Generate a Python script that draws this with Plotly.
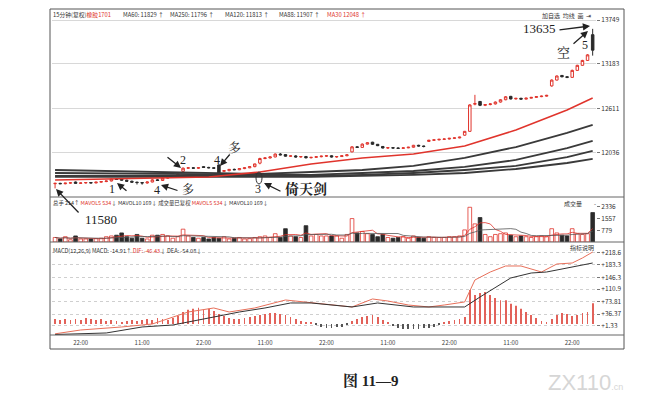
import plotly.graph_objects as go
from plotly.subplots import make_subplots
import pandas as pd

# ---------------- data ----------------
OPEN = [11640, 11645, 11640, 11648, 11662, 11645, 11650, 11655, 11650, 11660,
        11668, 11675, 11700, 11705, 11685, 11672, 11660, 11655, 11650, 11662,
        11690, 11682, 11712, 11725, 11738, 11800, 11840, 11845, 11840, 11860,
        11850, 11845, 11882, 11800, 11808, 11825, 11820, 11835, 11845, 11860,
        11905, 11965, 11972, 11985, 12022, 12015, 11995, 11998, 11985, 11990,
        11975, 11980, 11988, 11995, 12000, 11985, 11990, 12000, 12050, 12115,
        12108, 12150, 12175, 12148, 12120, 12100, 12104, 12100, 12096, 12102,
        12110, 12135, 12126, 12185, 12200, 12205, 12212, 12216, 12225, 12230,
        12265, 12315, 12665, 12700, 12650, 12660, 12668, 12692, 12722, 12765,
        12732, 12740, 12730, 12742, 12752, 12762, 12768, 12900, 12975, 13035,
        13018, 13010, 13100, 13165, 13228, 13560]
HIGH = [11652, 11652, 11650, 11660, 11668, 11655, 11660, 11662, 11665, 11672,
        11680, 11705, 11712, 11712, 11692, 11680, 11666, 11662, 11668, 11700,
        11700, 11720, 11730, 11745, 11770, 11850, 11852, 11855, 11850, 11866,
        11858, 11852, 11890, 11815, 11830, 11835, 11840, 11850, 11865, 11898,
        11975, 11980, 11990, 12030, 12035, 12020, 12005, 12008, 11995, 11998,
        11985, 11995, 12002, 12005, 12008, 11995, 12005, 12018, 12125, 12125,
        12160, 12175, 12180, 12152, 12125, 12110, 12112, 12108, 12106, 12115,
        12140, 12142, 12130, 12205, 12210, 12218, 12222, 12230, 12236, 12245,
        12320, 12665, 12785, 12705, 12665, 12675, 12700, 12730, 12770, 12772,
        12745, 12748, 12748, 12758, 12768, 12775, 12785, 12985, 13035, 13040,
        13025, 13110, 13172, 13236, 13310, 13635]
LOW = [11580, 11635, 11632, 11640, 11640, 11638, 11642, 11645, 11645, 11652,
       11660, 11670, 11688, 11680, 11668, 11655, 11630, 11628, 11640, 11658,
       11675, 11678, 11705, 11718, 11730, 11795, 11832, 11835, 11830, 11845,
       11838, 11832, 11735, 11790, 11800, 11815, 11815, 11828, 11840, 11852,
       11890, 11955, 11965, 11980, 12005, 11990, 11985, 11978, 11975, 11965,
       11965, 11972, 11980, 11985, 11978, 11975, 11985, 11995, 12045, 12100,
       12102, 12145, 12140, 12125, 12095, 12090, 12095, 12088, 12090, 12098,
       12105, 12120, 12108, 12180, 12192, 12198, 12205, 12210, 12218, 12225,
       12258, 12310, 12650, 12640, 12640, 12650, 12660, 12685, 12715, 12725,
       12725, 12725, 12726, 12738, 12748, 12755, 12762, 12890, 12970, 13010,
       13000, 13005, 13095, 13160, 13222, 13290]
CLOSE = [11645, 11640, 11648, 11652, 11645, 11650, 11655, 11650, 11660, 11668,
         11675, 11700, 11695, 11685, 11672, 11660, 11655, 11650, 11662, 11690,
         11682, 11712, 11725, 11738, 11762, 11840, 11845, 11840, 11846, 11850,
         11845, 11840, 11745, 11808, 11825, 11820, 11835, 11845, 11860, 11895,
         11965, 11972, 11985, 12022, 12012, 11995, 11998, 11985, 11990, 11975,
         11980, 11988, 11995, 12000, 11985, 11990, 12000, 12012, 12115, 12108,
         12150, 12168, 12148, 12130, 12100, 12104, 12100, 12096, 12102, 12110,
         12135, 12126, 12120, 12200, 12205, 12212, 12216, 12225, 12230, 12240,
         12315, 12655, 12672, 12650, 12660, 12668, 12692, 12722, 12760, 12732,
         12740, 12730, 12742, 12752, 12762, 12768, 12778, 12975, 13028, 13018,
         13010, 13100, 13165, 13228, 13300, 13360]
VOLUME = [300, 200, 350, 150, 400, 200, 200, 200, 220, 250,
          350, 400, 450, 600, 350, 250, 500, 250, 200, 450,
          450, 500, 400, 250, 350, 850, 400, 300, 250, 300,
          200, 300, 250, 350, 200, 250, 300, 200, 220, 300,
          350, 400, 300, 550, 300, 880, 400, 350, 300, 1080,
          400, 500, 400, 400, 400, 400, 250, 500, 1550, 600,
          700, 550, 500, 350, 500, 300, 250, 300, 350, 250,
          400, 300, 250, 350, 300, 300, 300, 350, 350, 400,
          800, 2300, 1200, 1620, 500, 350, 500, 550, 600, 450,
          350, 400, 350, 300, 350, 400, 350, 880, 600, 450,
          400, 880, 550, 500, 550, 1950]

# moving-average lines of the price panel, read at a few bar positions
MA_IDX = [0, 20, 40, 50, 60, 70, 80, 90, 100, 105]
MA60 = [11817, 11791, 11766, 11791, 11817, 11869, 11972, 12113, 12294, 12397]
MA88 = [11778, 11766, 11753, 11753, 11778, 11804, 11856, 11946, 12100, 12191]
MA120 = [11740, 11740, 11740, 11740, 11753, 11778, 11817, 11869, 11984, 12062]
MA250 = [11727, 11727, 11727, 11727, 11740, 11753, 11778, 11830, 11907, 11959]
MA30_IDX = [0, 20, 30, 40, 50, 60, 70, 80, 90, 100, 105]
MA30 = [11688, 11714, 11727, 11791, 11894, 11972, 12023, 12126, 12332, 12590, 12744]

# MACD panel
DIF_IDX = [0, 5, 13, 19, 26, 31, 34, 39, 45, 49, 54, 58, 62, 65, 69, 73, 76, 80,
           82, 85, 88, 91, 95, 98, 101, 103, 105]
DIF = [-22, -10.6, -1.6, 7.3, 43, 54.9, 43, 54.9, 78.7, 72.8, 63.8, 57.9, 81.7,
       75.7, 63.8, 57.9, 63.8, 72.8, 138.2, 162, 179.9, 179.9, 162, 185.8, 188.8,
       203.7, 221.5]
DEA_IDX = [0, 10, 17, 23, 30, 36, 41, 46, 50, 54, 58, 63, 70, 80, 83, 89, 93, 96, 101, 105]
DEA = [-24, -19.5, -1.6, 4.3, 25.1, 43, 54.9, 69.8, 69.8, 63.8, 57.9, 69.8, 57.9,
       57.9, 87.6, 144.2, 159, 162, 176.9, 188.8]
HIST_BASE = 7.3
HIST = [15, 12, 15, 12, 15, 12, 18, 15, 12, 15,
        9, 12, 9, 6, 9, 12, 9, 12, 15, 12,
        18, 15, 12, 18, 24, 36, 42, 45, 48, 42,
        45, 39, 30, 24, 18, 15, 15, 18, 21, 24,
        27, 30, 33, 33, 30, 27, 21, 15, 9, 3,
        3, -3, -9, -12, -12, -9, -9, -3, 9, 15,
        21, 24, 27, 21, 12, 3, -6, -12, -15, -15,
        -15, -15, -12, -12, -9, -3, 6, 9, 12, 15,
        21, 101, 86, 92, 95, 86, 77, 71, 71, 60,
        54, 45, 36, 27, 18, 9, 6, 15, 27, 33,
        30, 24, 27, 33, 36, 62]

TICK_IDX = [5, 17, 29, 41, 53, 65, 77, 89, 101]
TICK_TEXT = ["22:00", "11:00", "22:00", "11:00", "22:00", "11:00", "22:00", "11:00", "22:00"]
PRICE_TICKS = [13749, 13183, 12611, 12036]
VOL_TICKS = [2336, 1557, 779]
MACD_TICKS = [218.6, 183.3, 146.3, 110.9, 73.81, 36.37, 1.33]
MACD_TICK_TEXT = ["+218.6", "+183.3", "+146.3", "+110.9", "+73.81", "+36.37", "+1.33"]

# ---------------- figure ----------------
RED = "#e0342c"
BLK = "#2a2a2a"
W, H = 656, 402
L_M, R_M, T_M, B_M = 52, 60, 11, 67
PW, PH = W - L_M - R_M, H - T_M - B_M

def px(x, y):
    return (x - L_M) / PW, (H - B_M - y) / PH

n = len(CLOSE)
idx = list(range(n))
up = [c >= o for o, c in zip(OPEN, CLOSE)]

fig = make_subplots(rows=3, cols=1, shared_xaxes=True, vertical_spacing=0)

fig.add_trace(go.Candlestick(
    x=idx, open=OPEN, high=HIGH, low=LOW, close=CLOSE,
    increasing=dict(line=dict(color=RED, width=1), fillcolor="white"),
    decreasing=dict(line=dict(color=BLK, width=1), fillcolor=BLK),
    whiskerwidth=0, hoverinfo="skip"), row=1, col=1)

for ys in (MA60, MA88, MA120, MA250):
    fig.add_trace(go.Scatter(x=MA_IDX, y=ys, mode="lines",
                             line=dict(color="#3a3a3a", width=1.8)), row=1, col=1)
fig.add_trace(go.Scatter(x=MA30_IDX, y=MA30, mode="lines",
                         line=dict(color=RED, width=1.5)), row=1, col=1)

# volume
vol = pd.Series(VOLUME, dtype=float)
fig.add_trace(go.Bar(
    x=idx, y=VOLUME, width=0.72,
    marker=dict(color=["white" if u else BLK for u in up],
                line=dict(color=[RED if u else BLK for u in up], width=0.8))),
    row=2, col=1)
fig.add_trace(go.Scatter(x=idx, y=vol.rolling(5, min_periods=1).mean(), mode="lines",
                         line=dict(color=RED, width=0.8)), row=2, col=1)
fig.add_trace(go.Scatter(x=idx, y=vol.rolling(10, min_periods=1).mean(), mode="lines",
                         line=dict(color="#555", width=0.8)), row=2, col=1)

# MACD
fig.add_trace(go.Bar(
    x=idx, y=HIST, base=HIST_BASE, width=0.16,
    marker=dict(color=["#e2625a" if h >= 0 else "#555" for h in HIST], line=dict(width=0))),
    row=3, col=1)
fig.add_trace(go.Scatter(x=DIF_IDX, y=DIF, mode="lines",
                         line=dict(color="#e8705a", width=1)), row=3, col=1)
fig.add_trace(go.Scatter(x=DEA_IDX, y=DEA, mode="lines",
                         line=dict(color="#333", width=1)), row=3, col=1)

y1 = px(0, 197)[1]
y2 = px(0, 242)[1]
fig.update_layout(
    width=W, height=H, margin=dict(l=L_M, r=R_M, t=T_M, b=B_M),
    paper_bgcolor="white", plot_bgcolor="white", showlegend=False,
    hovermode=False, barmode="overlay",
    font=dict(family="Noto Sans CJK SC, Liberation Sans, sans-serif", color="#333"),
    yaxis=dict(domain=[y1, 1]), yaxis2=dict(domain=[y2, y1]), yaxis3=dict(domain=[0, y2]),
)
fig.update_xaxes(range=[-0.6, 105.65], showgrid=False, zeroline=False, showline=False,
                 rangeslider_visible=False, ticks="")
fig.update_xaxes(tickvals=TICK_IDX, ticktext=TICK_TEXT, tickfont=dict(size=6, color="#444"),
                 showticklabels=True, ticklabelstandoff=3, row=3, col=1)
common_y = dict(side="right", ticks="outside", ticklen=3, tickcolor="#777",
                tickfont=dict(size=6.5, color="#333"), zeroline=False, showline=False)
fig.update_yaxes(range=[11469, 13865], tickvals=PRICE_TICKS,
                 ticktext=[str(v) for v in PRICE_TICKS], showgrid=True,
                 gridcolor="#d8d8d8", gridwidth=0.6, **common_y, row=1, col=1)
fig.update_yaxes(range=[0, 2980], tickvals=VOL_TICKS, ticktext=[str(v) for v in VOL_TICKS],
                 showgrid=False, **common_y, row=2, col=1)
fig.update_yaxes(range=[-25.5, 251.3], tickvals=MACD_TICKS, ticktext=MACD_TICK_TEXT,
                 showgrid=True, gridcolor="#cfcfcf", gridwidth=0.6, griddash="dot",
                 **common_y, row=3, col=1)

# frame and separators
fx0, fy0 = px(50, 349)
fx1, fy1 = px(624, 9)
shapes = [dict(type="rect", xref="paper", yref="paper", x0=fx0, y0=fy0, x1=fx1, y1=fy1,
               line=dict(color="#555", width=1))]
for py in (197, 242, 335):
    shapes.append(dict(type="line", xref="paper", yref="paper", x0=fx0, x1=fx1,
                       y0=px(0, py)[1], y1=px(0, py)[1], line=dict(color="#666", width=1)))
ex0, ey0 = px(256, 184)
ex1, ey1 = px(262, 172)
shapes.append(dict(type="circle", xref="paper", yref="paper", x0=ex0, y0=ey0, x1=ex1, y1=ey1,
                   line=dict(color="#333", width=1)))
fig.update_layout(shapes=shapes)

anns = []

def text(x, y, t, size=6, color="#333", anchor="left", family=None, bold=False):
    ax_, ay_ = px(x, y)
    f = dict(size=size, color=color)
    if family:
        f["family"] = family
    anns.append(dict(xref="paper", yref="paper", x=ax_, y=ay_, text=f"<b>{t}</b>" if bold else t,
                     showarrow=False, xanchor=anchor, yanchor="middle", font=f))

def arrow(tx, ty, sx, sy, w=1.3):
    ax_, ay_ = px(tx, ty)
    anns.append(dict(xref="paper", yref="paper", x=ax_, y=ay_, text="", showarrow=True,
                     ax=sx - tx, ay=sy - ty, arrowhead=2, arrowsize=1.1, arrowwidth=w,
                     arrowcolor="#222"))

R = "#e0342c"
# header rows
text(51, 14, f"15分钟(复权)<span style='color:{R}'>橡胶1701</span>", 5.8)
text(121, 14, "MA60: 11829 ↑", 5.8)
text(168, 14, "MA250: 11796 ↑", 5.8)
text(223, 14, "MA120: 11813 ↑", 5.8)
text(277, 14, "MA88: 11907 ↑", 5.8)
text(325, 14, "MA30 12048 ↑", 5.8, RED)
text(540, 16, "加自选  均线  画  ⇥", 6)
text(51, 203, f"总手 214↑ <span style='color:{R}'>MAVOL5 534</span>↓ MAVOL10 169↓ "
              f"成交量已复权 <span style='color:{R}'>MAVOL5 534</span>↓ MAVOL10 169↓", 5.4)
text(562, 203, "成交量", 6)
text(592, 203, "-", 6)
text(51, 251, f"MACD(12,26,9) MACD: -14.91↑ <span style='color:{R}'>DIF: -46.43</span>↓ "
              f"DEA: -54.08↓", 5.6)
text(568, 248, "指标说明", 6)

# hand annotations
SERIF = "Liberation Serif, Noto Serif CJK SC, Noto Sans CJK SC, serif"
text(539, 28, "13635", 13, "#222", "center", SERIF)
arrow(590, 26, 558, 30)
text(563, 52, "空", 13, "#222", "center", SERIF)
arrow(588, 31, 572, 45)
text(585, 45, "5", 12, "#222", "center", SERIF)
text(183, 160, "2", 12, "#222", "center", SERIF)
arrow(181, 168, 166, 156)
text(217, 160, "4", 12, "#222", "center", SERIF)
text(234, 147, "多", 13, "#222", "center", SERIF)
arrow(220, 166, 231, 153)
text(112, 189, "1", 12, "#222", "center", SERIF)
arrow(117, 183, 128, 192)
text(157, 190, "4", 12, "#222", "center", SERIF)
text(188, 190, "多", 12, "#222", "center", SERIF)
arrow(161, 185, 179, 191)
text(258, 189, "3", 12, "#222", "center", SERIF)
arrow(264, 183, 282, 192)
text(306, 189, "倚天剑", 14, "#222", "center", SERIF, bold=True)
text(101, 219, "11580", 13, "#222", "center", SERIF)
arrow(56, 189, 80, 214)

# caption and watermark
text(370, 381, "图 11—9", 15, "#222", "center", SERIF, bold=True)
text(585, 382, "ZX110<span style='font-size:9px'>.cn</span>", 22, "#d6d6d6", "center",
     "Liberation Sans, sans-serif")

fig.update_layout(annotations=anns)
fig.write_html("out.html", config={"displayModeBar": False},
               post_script="document.body.style.margin='0px';")
